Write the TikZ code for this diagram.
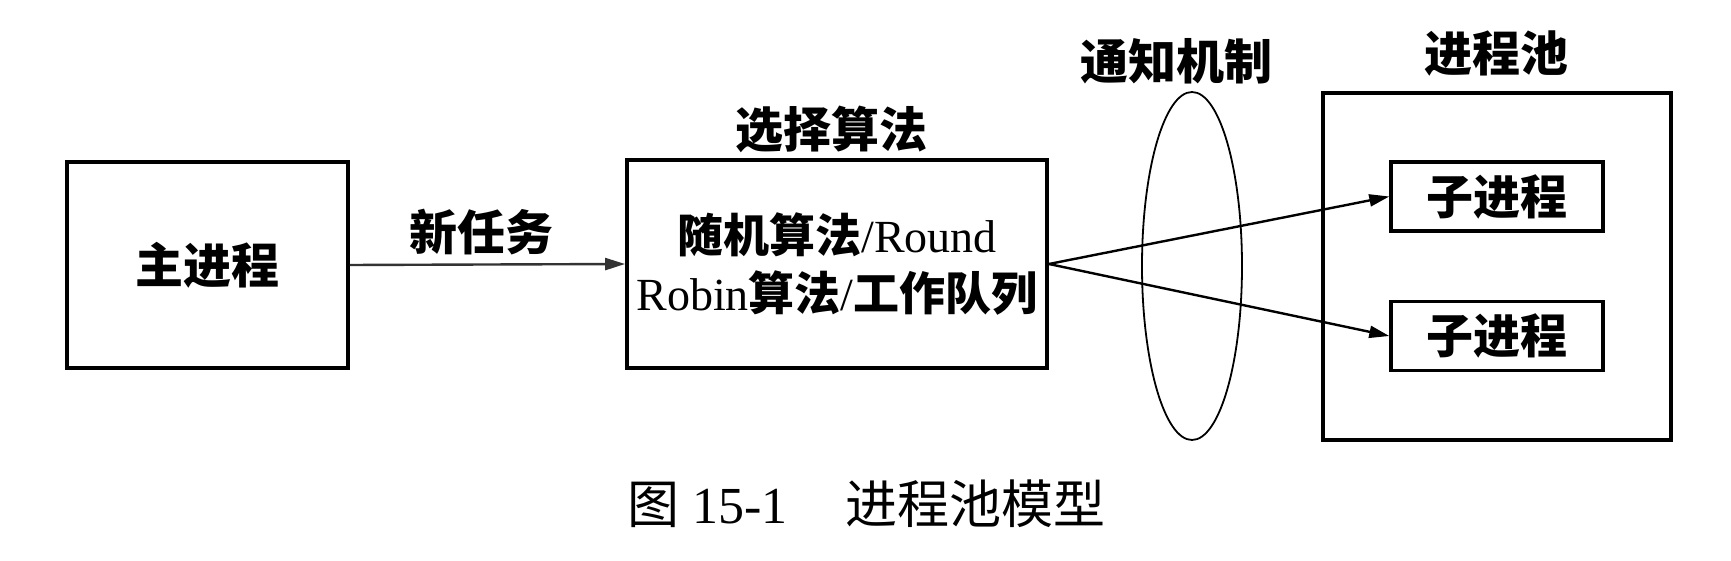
\documentclass[tikz,border=0pt]{standalone}
\usepackage{fontspec}
\setmainfont{Liberation Serif}
\newfontfamily\cjk{Noto Sans CJK SC}
\usetikzlibrary{arrows.meta,shapes.geometric}
\begin{document}
\begin{tikzpicture}[x=0.5pt,y=-0.5pt,
  box/.style={draw,line width=1.9pt,inner sep=0pt},
  childbox/.style={draw,line width=1.7pt,inner sep=0pt,minimum width=106pt,minimum height=34.5pt,
    font=\fontsize{23.5}{23.5}\selectfont\cjk\bfseries},
  lab/.style={inner sep=0pt,font=\fontsize{24}{24}\selectfont\cjk\bfseries},
  arr/.style={-{Triangle[length=10pt,width=6pt]},line width=1.2pt},
]
\useasboundingbox (0,0) rectangle (1731,561);
% boxes
\node[box,minimum width=140.5pt,minimum height=103pt,
      font=\fontsize{24}{24}\selectfont\cjk\bfseries] (main) at (207.5,265) {主进程};
\node[box,minimum width=210pt,minimum height=104pt,align=center,
      font=\fontsize{23}{29}\selectfont] (sel) at (837,264)
  {{\cjk\bfseries 随机算法}/Round\\Robin{\cjk\bfseries 算法}/{\cjk\bfseries 工作队列}};
\node[draw,ellipse,line width=0.9pt,inner sep=0pt,minimum width=50pt,minimum height=174pt] (notify) at (1192,266) {};
\node[box,minimum width=174pt,minimum height=173.5pt] (pool) at (1497,266.5) {};
\node[childbox] (c1) at (1497,196.5) {子进程};
\node[childbox] (c2) at (1497,336) {子进程};
% labels
\node[lab] (newtask) at (481,232) {新任务};
\node[lab] (seltitle) at (831,129) {选择算法};
\node[lab] (notifytitle) at (1176,61) {通知机制};
\node[lab] (pooltitle) at (1496,54) {进程池};
\node[inner sep=0pt,anchor=west,font=\fontsize{26}{26}\selectfont] (caption) at (627,504)
  {{\cjk 图} 15-1\hspace{29pt}{\cjk 进程池模型}};
% connectors
\draw[arr,draw=black!80] (main.east) -- (sel.west);
\draw[arr] (sel.east) -- (c1.west);
\draw[arr] (sel.east) -- (c2.west);
\end{tikzpicture}
\end{document}
